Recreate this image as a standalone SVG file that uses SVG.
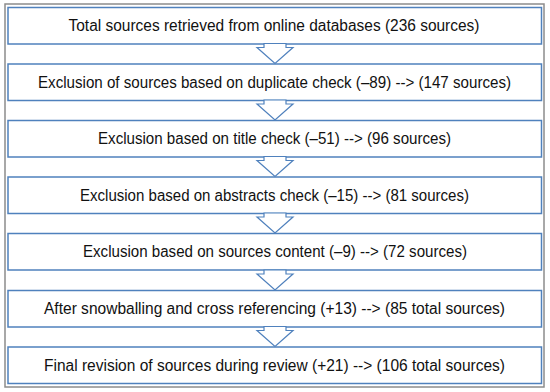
<svg xmlns="http://www.w3.org/2000/svg" width="550" height="392" viewBox="0 0 550 392">
<style>
.box{fill:#ffffff;stroke:#4f81bd;stroke-width:1.5}
.arr{fill:#ffffff;stroke:#4f81bd;stroke-width:1.2;stroke-linejoin:miter}
.t{font-family:"Liberation Sans",Arial,sans-serif;font-size:16px;fill:#111111;text-anchor:middle}
</style>
<rect x="0" y="0" width="550" height="392" fill="#ffffff"/>
<rect x="5" y="4" width="539" height="383" fill="#ffffff" stroke="#8c8c8c" stroke-width="1.5"/>
<g id="n1"><rect class="box" x="8" y="7.5" width="533.5" height="36.5"/><text class="t" x="274" y="31" textLength="411" lengthAdjust="spacingAndGlyphs">Total sources retrieved from online databases (236 sources)</text></g>
<g id="n2"><rect class="box" x="8" y="64" width="533.5" height="36.5"/><text class="t" x="274.5" y="87.5" textLength="473" lengthAdjust="spacingAndGlyphs">Exclusion of sources based on duplicate check (–89) --&gt; (147 sources)</text></g>
<g id="n3"><rect class="box" x="8" y="120.5" width="533.5" height="36.5"/><text class="t" x="274.5" y="144" textLength="353" lengthAdjust="spacingAndGlyphs">Exclusion based on title check (–51) --&gt; (96 sources)</text></g>
<g id="n4"><rect class="box" x="8" y="177" width="533.5" height="36.5"/><text class="t" x="274.5" y="200.5" textLength="389" lengthAdjust="spacingAndGlyphs">Exclusion based on abstracts check (–15) --&gt; (81 sources)</text></g>
<g id="n5"><rect class="box" x="8" y="233.5" width="533.5" height="36.5"/><text class="t" x="275" y="257" textLength="384" lengthAdjust="spacingAndGlyphs">Exclusion based on sources content (–9) --&gt; (72 sources)</text></g>
<g id="n6"><rect class="box" x="8" y="290.5" width="533.5" height="36.5"/><text class="t" x="274.5" y="314" textLength="461" lengthAdjust="spacingAndGlyphs">After snowballing and cross referencing (+13) --&gt; (85 total sources)</text></g>
<g id="n7"><rect class="box" x="8" y="347" width="533.5" height="36.5"/><text class="t" x="274.5" y="370.5" textLength="461" lengthAdjust="spacingAndGlyphs">Final revision of sources during review (+21) --&gt; (106 total sources)</text></g>
<g id="connectors">
<defs><path id="a" d="M264,-0.5 L264,3.5 L257,3.5 L275,19.5 L293,3.5 L286,3.5 L286,-0.5 Z"/></defs>
<use href="#a" class="arr" transform="translate(0,44)"/>
<use href="#a" class="arr" transform="translate(0,100.5)"/>
<use href="#a" class="arr" transform="translate(0,157)"/>
<use href="#a" class="arr" transform="translate(0,213.5)"/>
<use href="#a" class="arr" transform="translate(0,270.5)"/>
<use href="#a" class="arr" transform="translate(0,327)"/>
</g>
</svg>
